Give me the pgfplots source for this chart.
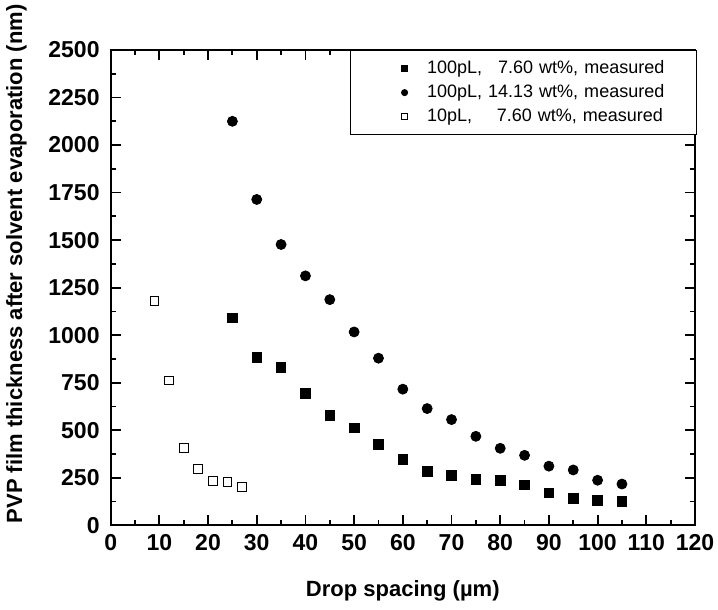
\documentclass[border=0pt]{standalone}
\usepackage{fontspec}
\setmainfont{Liberation Sans}
\usepackage{pgfplots}
\pgfplotsset{compat=1.18}

\pgfplotsset{
  pts/.style={only marks, black,
    legend image code/.code={\path (0pt,0pt) (34pt,0pt); \draw[##1] plot coordinates {(25pt,0pt)};}},
}

\begin{document}
\begin{tikzpicture}
\begin{axis}[
  name=ax,
  scale only axis, width=292pt, height=237.5pt,
  xmin=0, xmax=120, ymin=0, ymax=2500,
  xtick={0,10,...,120}, ytick={0,250,...,2500},
  minor x tick num=1, minor y tick num=1,
  tick align=inside,
  major tick length=5pt, minor tick length=2.5pt,
  axis line style={line width=1pt},
  every tick/.style={line width=0.9pt, black},
  /pgf/number format/assume math mode=true,
  /pgf/number format/1000 sep={},
  ticklabel style={font=\fontsize{11.5}{13}\selectfont\bfseries},
  xticklabel style={yshift=-1pt},
  yticklabel style={xshift=-2pt},
  label style={font=\fontsize{11}{13}\selectfont\bfseries},
  xlabel={Drop spacing (\textmu m)},
  ylabel={PVP film thickness after solvent evaporation (nm)},
  xlabel style={yshift=-8pt},
  ylabel style={at={(ticklabel cs:0.55)}, yshift=4pt},
  legend style={at={(rel axis cs:1.003,1)}, anchor=north east,
    font=\fontsize{9}{11}\selectfont, draw=black, line width=0.5pt,
    inner xsep=2pt, inner ysep=3pt, row sep=0pt,
    text width=130.5pt},
  legend cell align=left,
]
\addplot[pts, mark=square*, mark size=2.4pt,
  legend image post style={mark size=1.4pt}] coordinates {
  (25,1091)(30,882)(35,830)(40,693)(45,579)(50,512)(55,426)(60,347)(65,284)
  (70,263)(75,242)(80,235)(85,212)(90,170)(95,140)(100,132)(105,125)};
\addlegendentry{100pL, \hphantom{1}7.60 wt\%, measured}
\addplot[pts, mark=*, mark size=2.5pt,
  legend image post style={mark size=1.5pt}] coordinates {
  (25,2125)(30,1714)(35,1477)(40,1312)(45,1187)(50,1017)(55,879)(60,716)(65,614)
  (70,556)(75,468)(80,405)(85,368)(90,311)(95,291)(100,237)(105,217)};
\addlegendentry{100pL, 14.13 wt\%, measured}
\addplot[pts, mark=square, mark size=2.2pt, mark options={line width=0.5pt},
  legend image post style={mark size=1.4pt}] coordinates {
  (9,1179)(12,762)(15,405)(18,295)(21,232)(24,226)(27,202)};
\addlegendentry{10pL, \hphantom{11}7.60 wt\%, measured}
\end{axis}
\pgfresetboundingbox
\path ([shift={(-55.3pt,-42pt)}]ax.south west) rectangle ([shift={(11.5pt,25pt)}]ax.north east);
\end{tikzpicture}
\end{document}
